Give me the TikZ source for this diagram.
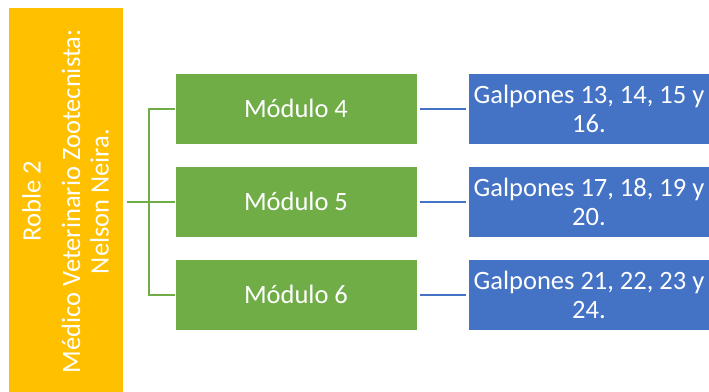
\documentclass[tikz,border=0pt]{standalone}
\usepackage{fontspec}
\setmainfont{Carlito}
\definecolor{rootyellow}{HTML}{FFC000}
\definecolor{modgreen}{HTML}{70AD47}
\definecolor{shedblue}{HTML}{4472C4}
\begin{document}
\begin{tikzpicture}[x=1pt,y=-1pt,
  box/.style={rectangle,draw=white,line width=0.8pt,inner sep=0pt,
    minimum width=242pt,minimum height=71pt,text=white,align=center,
    font=\fontsize{26.5}{29}\selectfont},
  modbox/.style={box,fill=modgreen},
  shedbox/.style={box,fill=shedblue},
  rootbox/.style={rectangle,draw=white,line width=0.8pt,fill=rootyellow,
    minimum width=115pt,minimum height=389pt,inner sep=0pt},
  gline/.style={draw=modgreen,line width=2pt},
  bline/.style={draw=shedblue,line width=2pt,shorten <=3pt,shorten >=2pt}]
\useasboundingbox (0,0) rectangle (709,391);
\clip (0,0) rectangle (709,391);
\fill[white] (0,0) rectangle (709,391);

% root box with its rotated caption
\node[rootbox] (root) at (65.5,201.5) {};
\node[rotate=90,text=white,align=center,inner sep=0pt,
  font=\fontsize{26.5}{28.5}\selectfont] (rootlabel) at (65.5,201.5)
  {Roble 2\\[11pt] Médico Veterinario Zootecnista:\\ Nelson Neira.};

% modules
\node[modbox] (m4) at (296,108.5) {Módulo 4};
\node[modbox] (m5) at (296,201.5) {Módulo 5};
\node[modbox] (m6) at (296,294.5) {Módulo 6};

% sheds
\node[shedbox] (g4) at (589,108.5) {Galpones 13, 14, 15 y\\16.};
\node[shedbox] (g5) at (589,201.5) {Galpones 17, 18, 19 y\\20.};
\node[shedbox] (g6) at (589,294.5) {Galpones 21, 22, 23 y\\24.};

% bracket from root to modules
\coordinate (bus) at (149,201.5);
\draw[gline,shorten <=4pt] (root.east |- m5.west) -- (m5.west);
\draw[gline] (m4.west) -- (m4.west -| bus) |- (m6.west);

% modules to sheds
\draw[bline] (m4.east) -- (g4.west);
\draw[bline] (m5.east) -- (g5.west);
\draw[bline] (m6.east) -- (g6.west);
\end{tikzpicture}
\end{document}
